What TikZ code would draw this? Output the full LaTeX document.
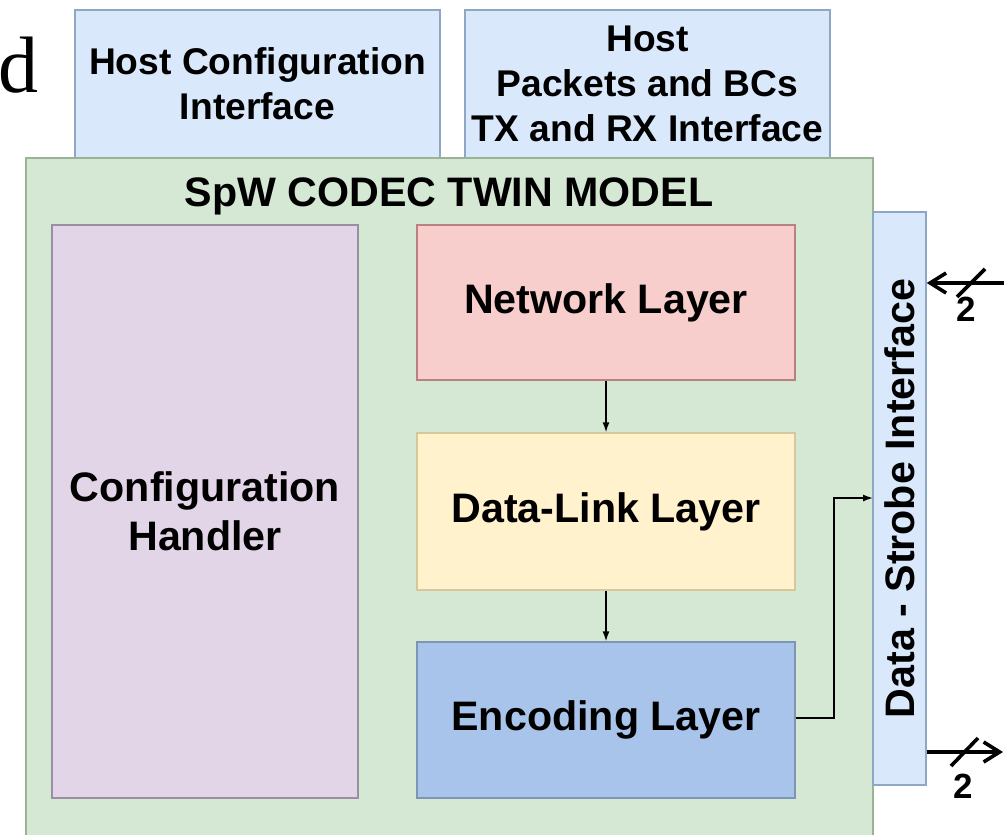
\documentclass[tikz,border=0pt]{standalone}
\usepackage{fontspec}
\setmainfont{Liberation Sans}
\newfontfamily\captionserif{Liberation Serif}
\usetikzlibrary{arrows.meta}

\definecolor{hostfill}{HTML}{DAE8FC}
\definecolor{hostline}{HTML}{8FA6C4}
\definecolor{greenfill}{HTML}{D5E8D4}
\definecolor{greenline}{HTML}{9AB394}
\definecolor{purplefill}{HTML}{E1D5E7}
\definecolor{purpleline}{HTML}{9A8FA2}
\definecolor{redfill}{HTML}{F8CECC}
\definecolor{redline}{HTML}{B9827F}
\definecolor{yellowfill}{HTML}{FFF2CC}
\definecolor{yellowline}{HTML}{D8C79A}
\definecolor{bluefill}{HTML}{A9C4EB}
\definecolor{blueline}{HTML}{7F95B5}

\tikzset{
  block/.style={draw, line width=0.7pt, inner sep=0pt, align=center,
    font=\fontsize{20.6}{24.5}\selectfont\bfseries},
  hostbox/.style={block, fill=hostfill, draw=hostline,
    minimum width=182.5pt, minimum height=74pt,
    font=\fontsize{18.6}{22.5}\selectfont\bfseries},
  layerbox/.style={block, minimum width=189pt},
  flow/.style={-{Latex[length=5pt,width=3.5pt]}, line width=0.7pt},
  bus/.style={line width=1.8pt},
  bustip/.tip={Straight Barb[length=8pt,width=10pt,line width=1.8pt]},
  buslabel/.style={font=\fontsize{17.5}{20}\selectfont\bfseries, inner sep=0pt}
}

\begin{document}
\begin{tikzpicture}[x=0.5pt, y=-0.5pt]
  \useasboundingbox (0,0) rectangle (1004,834);

  % caption letter at the top left
  \node[anchor=base west, inner sep=0pt, font=\fontsize{40}{44}\selectfont\captionserif]
    (cap) at (-2,93) {d};

  % host-side interfaces
  \node[hostbox] (hostcfg) at (257.5,84) {Host Configuration\\Interface};
  \node[hostbox] (hostpkt) at (647.5,84) {Host\\Packets and BCs\\TX and RX Interface};

  % twin model container (runs off the lower edge)
  \fill[greenfill] (26,158) rectangle (873,840);
  \draw[greenline, line width=0.7pt] (26,840) -- (26,158) -- (873,158) -- (873,840);
  \node[font=\fontsize{20.6}{24}\selectfont\bfseries, inner sep=0pt]
    (title) at (449,196) {SpW CODEC TWIN MODEL};

  % inner blocks
  \node[block, fill=purplefill, draw=purpleline,
    minimum width=153pt, minimum height=286.5pt]
    (cfg) at (205,511.5) {Configuration\\Handler};
  \node[layerbox, fill=redfill, draw=redline, minimum height=77.5pt]
    (net) at (606,302.5) {Network Layer};
  \node[layerbox, fill=yellowfill, draw=yellowline, minimum height=78.5pt]
    (dll) at (606,511.5) {Data-Link Layer};
  \node[layerbox, fill=bluefill, draw=blueline, minimum height=78pt]
    (enc) at (606,720) {Encoding Layer};

  % data-strobe interface
  \node[block, fill=hostfill, draw=hostline,
    minimum width=26.5pt, minimum height=286.5pt]
    (ds) at (899.5,498.5) {};
  \node[rotate=90, inner sep=0pt, font=\fontsize{20.6}{24}\selectfont\bfseries]
    (dslabel) at (ds.center) {Data - Strobe Interface};

  % internal flow
  \draw[flow] (net.south) -- (dll.north);
  \draw[flow] (dll.south) -- (enc.north);
  \coordinate (dsin) at (873,498);
  \draw[flow] (enc.east |- 0,718) -- (834,718) -- (834,498) -- (dsin);

  % external data-strobe lines
  \coordinate (rxend) at (1004,283);
  \draw[bus, bustip-] (ds.east |- rxend) -- (rxend);
  \draw[bus] (957,297) -- (985,269);
  \node[buslabel] (rxn) at (966,309) {2};

  \coordinate (txend) at (1003,752);
  \draw[bus, -bustip] (ds.east |- txend) -- (txend);
  \draw[bus] (951,766) -- (978,738);
  \node[buslabel] (txn) at (963,786) {2};
\end{tikzpicture}
\end{document}
